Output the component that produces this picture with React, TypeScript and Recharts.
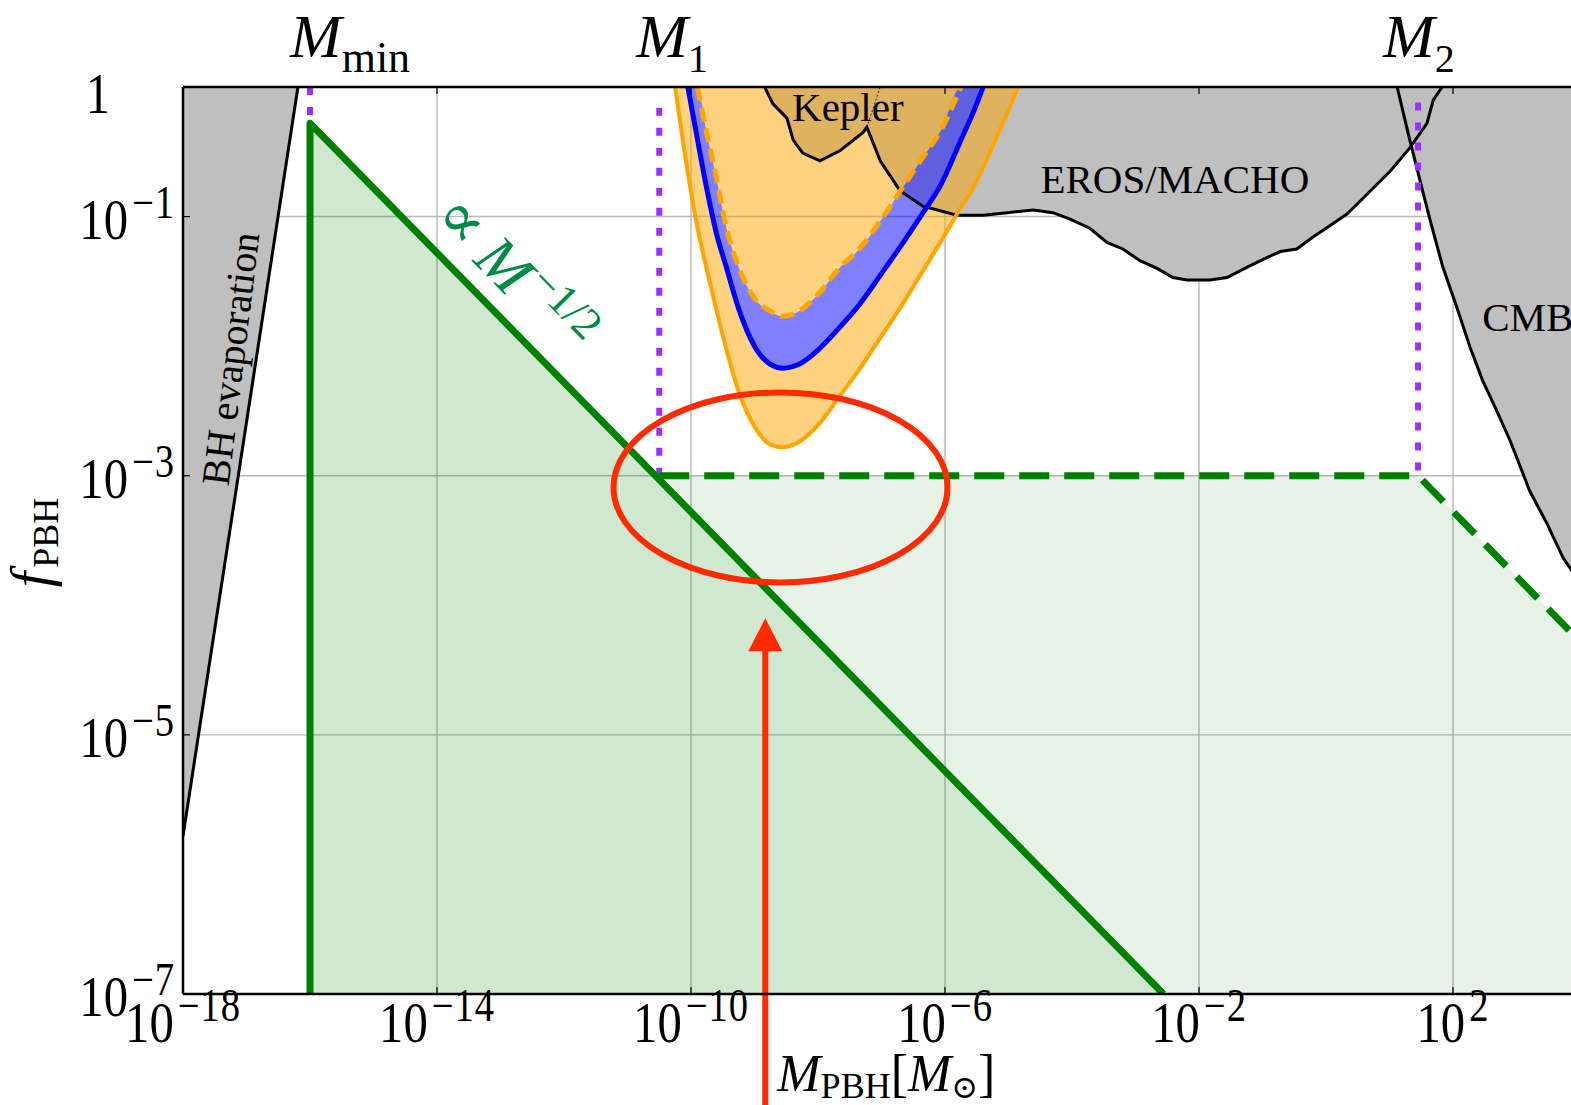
import React from "react";
import {
  ComposedChart,
  Area,
  Line,
  XAxis,
  YAxis,
  CartesianGrid,
  ReferenceDot,
  ReferenceLine,
} from "recharts";

// x: log10(M_PBH / M_sun), y: log10(f_PBH)
const massTicks = [-18, -14, -10, -6, -2, 2];
const fracTicks = [-7, -5, -3, -1, 0];

// excluded regions (filled up to f = 1)
const evaporation = [
  { lx: -18, ly: -5.78 },
  { lx: -16.19, ly: 0 },
];

const keplerEros = [
  { lx: -8.84, ly: 0 },
  { lx: -8.71, ly: -0.13 },
  { lx: -8.49, ly: -0.24 },
  { lx: -8.39, ly: -0.41 },
  { lx: -8.24, ly: -0.51 },
  { lx: -7.97, ly: -0.57 },
  { lx: -7.65, ly: -0.49 },
  { lx: -7.29, ly: -0.35 },
  { lx: -7.23, ly: -0.31 },
  { lx: -7.02, ly: -0.57 },
  { lx: -6.71, ly: -0.8 },
  { lx: -6.35, ly: -0.92 },
  { lx: -5.81, ly: -0.99 },
  { lx: -5.4, ly: -0.99 },
  { lx: -5.02, ly: -0.97 },
  { lx: -4.61, ly: -0.95 },
  { lx: -4.3, ly: -0.97 },
  { lx: -4.03, ly: -1.02 },
  { lx: -3.72, ly: -1.09 },
  { lx: -3.45, ly: -1.2 },
  { lx: -3.2, ly: -1.25 },
  { lx: -2.93, ly: -1.34 },
  { lx: -2.66, ly: -1.4 },
  { lx: -2.41, ly: -1.47 },
  { lx: -2.19, ly: -1.49 },
  { lx: -1.83, ly: -1.49 },
  { lx: -1.56, ly: -1.47 },
  { lx: -1.24, ly: -1.39 },
  { lx: -0.99, ly: -1.33 },
  { lx: -0.72, ly: -1.27 },
  { lx: -0.46, ly: -1.25 },
  { lx: -0.21, ly: -1.16 },
  { lx: 0.06, ly: -1.07 },
  { lx: 0.33, ly: -0.98 },
  { lx: 0.54, ly: -0.88 },
  { lx: 1.01, ly: -0.65 },
  { lx: 1.32, ly: -0.47 },
  { lx: 1.59, ly: -0.28 },
  { lx: 1.69, ly: -0.1 },
  { lx: 1.83, ly: 0 },
];

const keplerDivider = [
  { lx: -7.23, ly: -0.31 },
  { lx: -7.02, ly: 0 },
];

const cmb = [
  { lx: 1.12, ly: 0 },
  { lx: 1.32, ly: -0.41 },
  { lx: 1.48, ly: -0.72 },
  { lx: 1.64, ly: -1.03 },
  { lx: 1.84, ly: -1.39 },
  { lx: 2.06, ly: -1.7 },
  { lx: 2.27, ly: -2.01 },
  { lx: 2.47, ly: -2.27 },
  { lx: 2.69, ly: -2.5 },
  { lx: 2.9, ly: -2.73 },
  { lx: 3.21, ly: -3.12 },
  { lx: 3.48, ly: -3.37 },
  { lx: 3.73, ly: -3.63 },
  { lx: 4.0, ly: -3.83 },
];

// U-shaped sensitivity curves sampled on a shared mass grid (null = above f = 1)
const bandMass = [
  -10.25, -10.05, -9.9, -9.75, -9.6, -9.45, -9.25, -9.0, -8.75, -8.55, -8.3, -8.0,
  -7.65, -7.35, -7.0, -6.7, -6.4, -6.05, -5.75, -5.55, -5.4, -5.2, -5.0, -4.85,
];
const bandOuter = [
  0, -0.66, -1.08, -1.41, -1.72, -2.01, -2.35, -2.62, -2.76, -2.78, -2.74, -2.61,
  -2.38, -2.18, -1.92, -1.7, -1.46, -1.18, -0.93, -0.77, -0.62, -0.4, -0.18, 0,
];
const bandBlue = [
  null, 0, -0.4, -0.79, -1.13, -1.38, -1.71, -2.0, -2.14, -2.17, -2.14, -2.03,
  -1.85, -1.68, -1.44, -1.23, -1.01, -0.74, -0.41, -0.19, 0, null, null, null,
];
const bandInner = [
  null, null, 0, -0.36, -0.7, -1.07, -1.39, -1.63, -1.73, -1.77, -1.73, -1.6,
  -1.39, -1.25, -1.02, -0.8, -0.58, -0.32, 0, null, null, null, null, null,
];

// f_PBH ∝ M^-1/2 above M_min
const powerLaw = [
  { lx: -16, ly: -7 },
  { lx: -16, ly: -0.28 },
  { lx: -2.56, ly: -7 },
];

// plateau between M1 and M2, then falling again
const plateau = [
  { lx: -10.5, ly: -3 },
  { lx: 1.45, ly: -3 },
  { lx: 4, ly: -4.28 },
];
const plateauFill = [
  { lx: -10.5, low: -3, high: -3 },
  { lx: -2.56, low: -7, high: -3 },
  { lx: 1.45, low: -7, high: -3 },
  { lx: 4, low: -7, high: -4.28 },
];

// M_min, M_1, M_2
const markerSubs = ["min", "1", "2"];
const markerMass = [-16, -10.5, 1.45];
const markerTop = [0, -0.16, -0.12];
const markerBottom = [-0.28, -3, -3];
const markerShift = [-20, -23, -35];

const circled = { lx: -8.59, ly: -3.09 };
const arrowMass = -8.83;
const arrowFrom = -7.9;
const arrowTo = -4.1;

const bandRows = bandMass.map((lx, i) => ({
  lx,
  outer: bandOuter[i],
  blue: bandBlue[i],
  inner: bandInner[i],
}));

const serif = "'Liberation Serif', 'DejaVu Serif', serif";
const RED = "#ff2a00";
const GREEN = "#008000";
const PURPLE = "#9b30ff";
const GRAY = "#bfbfbf";

const supText = (v: number) => (v < 0 ? `\u2212${-v}` : `${v}`);

function MassTick({ x, y, payload }: any) {
  return (
    <g>
      <line x1={x} y1={y} x2={x} y2={y - 7} stroke="#000" strokeWidth={1.2} />
      <g transform={`translate(${x},${y + 48}) scale(0.84,1)`}>
        <text textAnchor="middle" fontFamily={serif} fontSize={58} fill="#000">
          10
          <tspan dx={5} dy={-21} fontSize={46} letterSpacing={1}>
            {supText(payload.value)}
          </tspan>
        </text>
      </g>
    </g>
  );
}

function TopTick({ x, y }: any) {
  return <line x1={x} y1={y} x2={x} y2={y + 7} stroke="#000" strokeWidth={1.2} />;
}

function FracTick({ x, y, payload }: any) {
  const v = payload.value;
  return (
    <g>
      <line x1={x} y1={y} x2={x + 7} y2={y} stroke="#000" strokeWidth={1.2} />
      {v === 0 ? (
        <g transform={`translate(${x - 73},${y + 26}) scale(0.84,1)`}>
          <text textAnchor="end" fontFamily={serif} fontSize={58} fill="#000">
            1
          </text>
        </g>
      ) : (
        <g transform={`translate(${x - 8},${y + 22}) scale(0.84,1)`}>
          <text textAnchor="end" fontFamily={serif} fontSize={58} fill="#000">
            10
            <tspan dx={5} dy={-21} fontSize={46} letterSpacing={1}>
              {supText(v)}
            </tspan>
          </text>
        </g>
      )}
    </g>
  );
}

// ReferenceDot shape helper: draw something at the dot's pixel position
const at = (draw: (cx: number, cy: number) => React.ReactElement) => (p: any) => draw(p.cx, p.cy);

function Arrow({ x1, y1, y2 }: any) {
  const x = x1;
  const tip = Math.min(y1, y2);
  const tail = Math.max(y1, y2);
  return (
    <g>
      <line x1={x} y1={tail} x2={x} y2={tip + 30} stroke={RED} strokeWidth={6} />
      <polygon points={`${x - 17},${tip + 33} ${x + 17},${tip + 33} ${x},${tip}`} fill={RED} />
    </g>
  );
}

export default function App() {
  return (
    <div
      style={{
        position: "fixed",
        left: 0,
        top: 0,
        width: 1571,
        height: 1105,
        overflow: "hidden",
        background: "#fff",
      }}
    >
      <ComposedChart width={1600} height={1105} margin={{ top: 57, right: 20, bottom: 0, left: 0 }}>
        <CartesianGrid stroke="#b8b8b8" strokeWidth={1.4} />
        <XAxis
          dataKey="lx"
          type="number"
          domain={[-18, 4]}
          allowDataOverflow
          ticks={massTicks}
          interval={0}
          height={111}
          tickSize={0}
          tickMargin={0}
          tickLine={false}
          axisLine={{ stroke: "#000", strokeWidth: 2.5 }}
          tick={<MassTick />}
        />
        <XAxis
          xAxisId="top"
          orientation="top"
          dataKey="lx"
          type="number"
          domain={[-18, 4]}
          allowDataOverflow
          ticks={massTicks}
          interval={0}
          height={30}
          tickSize={0}
          tickMargin={0}
          tickLine={false}
          axisLine={{ stroke: "#000", strokeWidth: 2.5 }}
          tick={<TopTick />}
        />
        <YAxis
          type="number"
          domain={[-7, 0]}
          allowDataOverflow
          ticks={fracTicks}
          interval={0}
          width={183}
          tickSize={0}
          tickMargin={0}
          tickLine={false}
          axisLine={{ stroke: "#000", strokeWidth: 2.5 }}
          tick={<FracTick />}
        />

        {/* excluded regions */}
        <Area data={evaporation} dataKey="ly" type="linear" baseValue={0} fill={GRAY} fillOpacity={1} stroke="none" isAnimationActive={false} />
        <Area data={keplerEros} dataKey="ly" type="linear" baseValue={0} fill={GRAY} fillOpacity={1} stroke="none" isAnimationActive={false} />
        <Area data={cmb} dataKey="ly" type="linear" baseValue={0} fill={GRAY} fillOpacity={1} stroke="none" isAnimationActive={false} />

        {/* sensitivity bands */}
        <Area data={bandRows} dataKey={(d: any) => [d.outer, d.blue ?? 0]} type="monotone" fill="#ffa500" fillOpacity={0.5} stroke="none" isAnimationActive={false} />
        <Area data={bandRows} dataKey={(d: any) => [d.blue ?? 0, d.inner ?? 0]} type="monotone" fill="#0000ff" fillOpacity={0.5} stroke="none" isAnimationActive={false} />
        <Area data={bandRows} dataKey={(d: any) => [d.inner ?? 0, 0]} type="monotone" fill="#ffa500" fillOpacity={0.5} stroke="none" isAnimationActive={false} />

        {/* allowed f_PBH */}
        <Area data={plateauFill} dataKey={(d: any) => [d.low, d.high]} type="linear" fill={GREEN} fillOpacity={0.1} stroke="none" isAnimationActive={false} />
        <Area data={powerLaw} dataKey="ly" type="linear" baseValue={-7} fill={GREEN} fillOpacity={0.185} stroke="none" isAnimationActive={false} />

        {/* outlines */}
        <Line data={evaporation} dataKey="ly" type="linear" stroke="#000" strokeWidth={3} dot={false} activeDot={false} isAnimationActive={false} />
        <Line data={keplerEros} dataKey="ly" type="linear" stroke="#000" strokeWidth={3} dot={false} activeDot={false} isAnimationActive={false} />
        <Line data={keplerDivider} dataKey="ly" type="linear" stroke="#000" strokeWidth={0.8} strokeDasharray="2 2" dot={false} activeDot={false} isAnimationActive={false} />
        <Line data={cmb} dataKey="ly" type="linear" stroke="#000" strokeWidth={3} dot={false} activeDot={false} isAnimationActive={false} />

        <Line data={bandRows} dataKey="outer" type="monotone" stroke="#ffa500" strokeWidth={4} dot={false} activeDot={false} isAnimationActive={false} />
        <Line data={bandRows} dataKey="blue" type="monotone" stroke="#0000ff" strokeWidth={5} dot={false} activeDot={false} isAnimationActive={false} />
        <Line data={bandRows} dataKey="inner" type="monotone" stroke="#ffa500" strokeWidth={5} strokeDasharray="14 7" dot={false} activeDot={false} isAnimationActive={false} />

        {markerMass.map((lx, i) => (
          <Line
            key={`marker-${i}`}
            data={[
              { lx, ly: markerTop[i] },
              { lx, ly: markerBottom[i] },
            ]}
            dataKey="ly"
            type="linear"
            stroke={PURPLE}
            strokeWidth={6}
            strokeDasharray="8 12"
            dot={false}
            activeDot={false}
            isAnimationActive={false}
          />
        ))}

        <Line data={powerLaw} dataKey="ly" type="linear" stroke={GREEN} strokeWidth={7} strokeLinejoin="round" dot={false} activeDot={false} isAnimationActive={false} />
        <Line data={plateau} dataKey="ly" type="linear" stroke={GREEN} strokeWidth={7} strokeDasharray="30 15" dot={false} activeDot={false} isAnimationActive={false} />

        {/* region labels */}
        <ReferenceDot
          x={-7.53}
          y={-0.26}
          r={0}
          ifOverflow="visible"
          shape={at((cx, cy) => (
            <text x={cx} y={cy} textAnchor="middle" fontFamily={serif} fontSize={41} fill="#000">
              Kepler
            </text>
          ))}
        />
        <ReferenceDot
          x={-2.38}
          y={-0.815}
          r={0}
          ifOverflow="visible"
          shape={at((cx, cy) => (
            <text x={cx} y={cy} textAnchor="middle" fontFamily={serif} fontSize={41} fill="#000">
              EROS/MACHO
            </text>
          ))}
        />
        <ReferenceDot
          x={2.46}
          y={-1.88}
          r={0}
          ifOverflow="visible"
          shape={at((cx, cy) => (
            <text x={cx} y={cy} fontFamily={serif} fontSize={41} fill="#000">
              CMB
            </text>
          ))}
        />
        <ReferenceDot
          x={-17.04}
          y={-2.11}
          r={0}
          ifOverflow="visible"
          shape={at((cx, cy) => (
            <text
              transform={`translate(${cx},${cy}) rotate(-83)`}
              textAnchor="middle"
              fontFamily={serif}
              fontSize={40}
              fill="#000"
            >
              BH evaporation
            </text>
          ))}
        />
        <ReferenceDot
          x={-14.1}
          y={-1.02}
          r={0}
          ifOverflow="visible"
          shape={at((cx, cy) => (
            <text
              transform={`translate(${cx},${cy}) rotate(45.6)`}
              fontFamily={serif}
              fontSize={66}
              fill="#008b45"
            >
              ∝
              <tspan dx={14} fontStyle="italic" fontSize={62}>
                M
              </tspan>
              <tspan dx={4} dy={-24} fontSize={44}>
                −1/2
              </tspan>
            </text>
          ))}
        />

        {/* M_min, M_1, M_2 */}
        {markerMass.map((lx, i) => (
          <ReferenceDot
            key={`mlabel-${i}`}
            x={lx}
            y={0}
            r={0}
            ifOverflow="visible"
            shape={at((cx, cy) => (
              <text x={cx + markerShift[i]} y={cy - 30} fontFamily={serif} fontSize={62} fontStyle="italic" fill="#000">
                M
                <tspan fontStyle="normal" fontSize={i === 0 ? 44 : 40} dy={15}>
                  {markerSubs[i]}
                </tspan>
              </text>
            ))}
          />
        ))}

        {/* axis titles */}
        <ReferenceDot
          x={-18}
          y={-3.5}
          r={0}
          ifOverflow="visible"
          shape={at((cx, cy) => (
            <text
              transform={`translate(${cx - 133},${cy + 2}) rotate(-90)`}
              textAnchor="middle"
              fontFamily={serif}
              fontSize={56}
              fontStyle="italic"
              fill="#000"
            >
              f
              <tspan dx={4} dy={8} fontStyle="normal" fontSize={36}>
                PBH
              </tspan>
            </text>
          ))}
        />
        <ReferenceDot
          x={arrowMass}
          y={-7}
          r={0}
          ifOverflow="visible"
          shape={at((cx, cy) => (
            <text x={cx + 12} y={cy + 97} fontFamily={serif} fontSize={52} fill="#000">
              <tspan fontStyle="italic">M</tspan>
              <tspan dy={7} fontSize={36}>
                PBH
              </tspan>
              <tspan dy={-7}>[</tspan>
              <tspan fontStyle="italic">M</tspan>
              <tspan dy={7} fontSize={32}>
                ⊙
              </tspan>
              <tspan dy={-7}>]</tspan>
            </text>
          ))}
        />

        {/* highlighted crossing */}
        <ReferenceDot
          x={circled.lx}
          y={circled.ly}
          r={0}
          ifOverflow="visible"
          shape={at((cx, cy) => (
            <ellipse cx={cx} cy={cy} rx={167} ry={95} fill="none" stroke={RED} strokeWidth={6} />
          ))}
        />
        <ReferenceLine
          segment={[
            { x: arrowMass, y: arrowFrom },
            { x: arrowMass, y: arrowTo },
          ]}
          ifOverflow="visible"
          shape={(p: any) => <Arrow {...p} />}
        />
      </ComposedChart>
    </div>
  );
}
